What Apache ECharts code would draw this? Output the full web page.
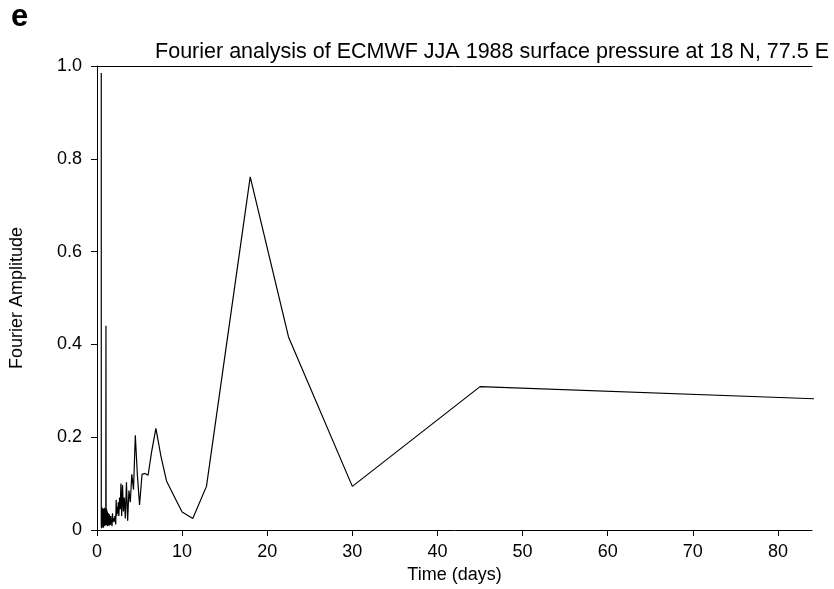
<!DOCTYPE html>
<html>
<head>
<meta charset="utf-8">
<script src="https://cdn.jsdelivr.net/npm/echarts@6/dist/echarts.min.js"></script>
<style>html,body{margin:0;padding:0;background:#fff}#c{width:834px;height:589px}</style>
</head>
<body>
<div id="c"></div>
<script>
// Period (days) and Fourier amplitude
const periods = [
  0.500,0.503,0.506,0.509,0.513,0.517,0.521,0.525,0.529,0.533,
  0.537,0.542,0.546,0.551,0.556,0.561,0.566,0.571,0.577,0.583,
  0.588,0.594,0.600,0.606,0.612,0.619,0.625,0.632,0.638,0.645,
  0.652,0.660,0.667,0.674,0.682,0.690,0.698,0.706,0.714,0.723,
  0.732,0.741,0.750,0.759,0.769,0.779,0.789,0.800,0.811,0.822,
  0.833,0.845,0.857,0.870,0.882,0.896,0.909,0.923,0.938,0.952,
  0.968,0.984,1.000,1.017,1.034,1.053,1.071,1.091,1.111,1.132,
  1.154,1.176,1.200,1.224,1.250,1.277,1.304,1.333,1.364,1.395,
  1.429,1.463,1.500,1.538,1.579,1.622,1.667,1.714,1.765,1.818,
  1.875,1.935,
  2.00,2.05,2.09,2.14,2.20,2.25,2.31,2.37,2.43,
  2.50,2.57,2.65,2.73,2.81,2.90,3.00,3.10,3.21,3.33,
  3.46,3.60,3.75,3.91,4.09,4.29,4.50,4.74,5.00,5.29,
  5.63,6.00,6.43,6.92,7.50,8.18,9.00,10.0,11.25,12.86,
  18.0,22.5,30.0,45.0,90.0
];
const amplitudes = [
  0.985,0.010,0.032,0.006,0.041,0.015,0.028,0.004,0.046,0.018,
  0.036,0.009,0.044,0.016,0.030,0.005,0.049,0.021,0.039,0.011,
  0.045,0.019,0.034,0.008,0.043,0.014,0.029,0.006,0.040,0.020,
  0.037,0.010,0.047,0.017,0.031,0.007,0.042,0.022,0.035,0.012,
  0.044,0.016,0.027,0.005,0.038,0.019,0.046,0.011,0.033,0.008,
  0.041,0.015,0.030,0.009,0.048,0.020,0.036,0.012,0.043,0.017,
  0.028,0.010,0.018,0.025,0.012,0.440,0.020,0.039,0.011,0.045,
  0.019,0.031,0.008,0.040,0.016,0.029,0.010,0.036,0.014,0.026,
  0.009,0.034,0.018,0.023,0.011,0.030,0.015,0.021,0.008,0.036,
  0.017,0.025,
  0.022,0.018,0.030,0.022,0.012,0.065,0.030,0.050,0.035,
  0.060,0.030,0.070,0.045,0.100,0.030,0.097,0.040,0.070,0.025,
  0.103,0.020,0.085,0.060,0.120,0.087,0.204,0.120,0.054,0.120,
  0.122,0.118,0.170,0.219,0.160,0.105,0.075,0.039,0.025,0.094,
  0.761,0.416,0.094,0.309,0.279
];
const xTicks = [0,10,20,30,40,50,60,70,80];
const titleText = 'Fourier analysis of ECMWF JJA 1988 surface pressure at 18 N, 77.5 E';
const panelLabel = 'e';
const xName = 'Time (days)';
const yName = 'Fourier Amplitude';

const FONT = '"Liberation Sans", Arial, Helvetica, sans-serif';
const chart = echarts.init(document.getElementById('c'), null, {renderer: 'canvas'});
const data = periods.map((p, i) => [p, amplitudes[i]]);
chart.setOption({
  animation: false,
  backgroundColor: '#fff',
  title: [
    {text: panelLabel, left: 6, top: -3, textStyle: {fontFamily: FONT, fontSize: 31, fontWeight: 'bold', color: '#000'}},
    {text: titleText, right: 0, top: 36, textStyle: {fontFamily: FONT, fontSize: 21.5, fontWeight: 'normal', color: '#000'}}
  ],
  grid: {left: 92, right: 22, top: 66, bottom: 57, containLabel: false},
  xAxis: [{
    type: 'value', min: 0, max: 84,
    name: xName, nameLocation: 'middle', nameGap: 36,
    nameTextStyle: {fontFamily: FONT, fontSize: 18, color: '#000'},
    axisLine: {show: true, lineStyle: {color: '#000', width: 1}},
    axisTick: {show: true, length: 6, inside: false, customValues: xTicks, lineStyle: {color: '#000'}},
    axisLabel: {customValues: xTicks, margin: 13, fontFamily: FONT, fontSize: 18, color: '#000'},
    splitLine: {show: false}
  }, {
    type: 'value', min: 0, max: 84, position: 'top',
    axisLine: {show: true, onZero: false, lineStyle: {color: '#000', width: 1}},
    axisTick: {show: false}, axisLabel: {show: false}, splitLine: {show: false}
  }],
  yAxis: {
    type: 'value', min: 0, max: 1, interval: 0.2,
    name: yName, nameLocation: 'middle', nameGap: 71, nameRotate: 90,
    nameTextStyle: {fontFamily: FONT, fontSize: 18, color: '#000'},
    axisLine: {show: true, lineStyle: {color: '#000', width: 1}},
    axisTick: {show: true, length: 6, inside: false, lineStyle: {color: '#000'}},
    axisLabel: {margin: 15, fontFamily: FONT, fontSize: 18, color: '#000',
      formatter: v => (v === 0 ? '0' : v.toFixed(1))},
    splitLine: {show: false}
  },
  series: [{
    type: 'line', xAxisIndex: 0, data: data, symbol: 'none', clip: true,
    lineStyle: {color: '#000', width: 1.2}
  }]
});
</script>
</body>
</html>
